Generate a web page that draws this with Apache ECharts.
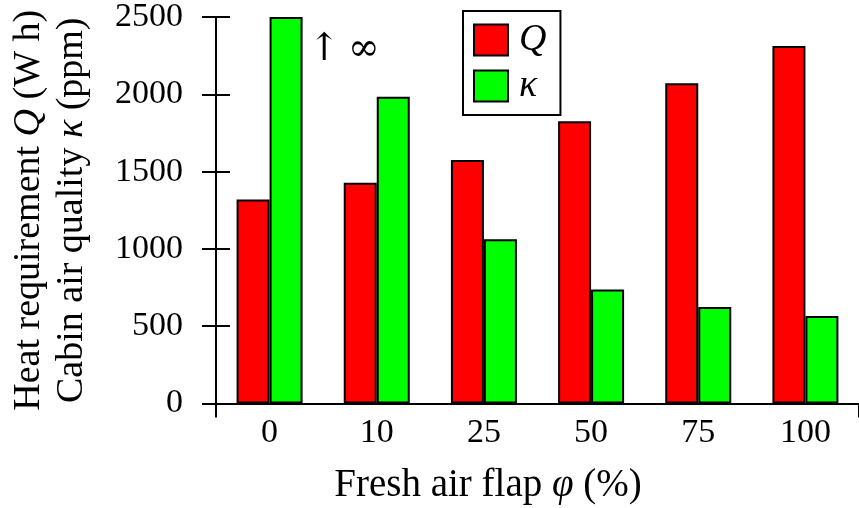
<!DOCTYPE html>
<html>
<head>
<meta charset="utf-8">
<script src="https://cdn.jsdelivr.net/npm/echarts@6/dist/echarts.min.js"></script>
<style>
html,body{margin:0;padding:0;background:#fff;}
#chart{width:859px;height:508px;}
</style>
</head>
<body>
<div id="chart"></div>
<script>
const categories = ['0', '10', '25', '50', '75', '100'];
const heatQ = [1320, 1428, 1575, 1825, 2072, 2313];
const airKappa = [2500, 1984, 1063, 737, 625, 566];
const yMin = 0, yMax = 2500, yInterval = 500;
const infinityNote = '↑\u2009∞';

const FONT = 'Liberation Serif';
const chart = echarts.init(document.getElementById('chart'), null, {renderer: 'canvas'});

const kappaData = airKappa.map((v, i) => i === 0 ? {
  value: v,
  label: {
    show: true, formatter: infinityNote, position: [39, 14],
    align: 'left', verticalAlign: 'top',
    fontFamily: 'DejaVu Serif', fontSize: 38, color: '#000'
  }
} : v);

const option = {
  animation: false,
  backgroundColor: '#fff',
  textStyle: {fontFamily: FONT},
  grid: {left: 213.6, top: 16, width: 652.2, height: 387.5, containLabel: false},
  title: {
    text: '{a|Fresh air flap }{i|φ}{a| (%)}',
    left: 483, top: 461, textAlign: 'center',
    textStyle: {
      fontWeight: 'normal',
      rich: {
        a: {fontFamily: FONT, fontSize: 39, fontWeight: 'normal', color: '#000'},
        i: {fontFamily: FONT, fontSize: 39, fontWeight: 'normal', fontStyle: 'italic', color: '#000'}
      }
    }
  },
  legend: {
    data: ['Q', 'κ'],
    orient: 'vertical',
    left: 463, top: 11,
    itemWidth: 34, itemHeight: 31, itemGap: 8,
    padding: [10, 14, 10, 10],
    borderColor: '#000', borderWidth: 2,
    icon: 'rect',
    textStyle: {fontFamily: FONT, fontSize: 38, lineHeight: 31, height: 31, fontStyle: 'italic', color: '#000', padding: [0, 0, 0, 6]}
  },
  xAxis: {
    type: 'category',
    data: categories,
    axisLine: {show: true, lineStyle: {color: '#000', width: 2}},
    axisTick: {show: true, length: 14, interval: function (i) { return i === 0; }, lineStyle: {color: '#000', width: 2}},
    axisLabel: {fontFamily: FONT, fontSize: 34, color: '#000', margin: 13},
    splitLine: {show: false}
  },
  yAxis: [{
    type: 'value',
    min: yMin, max: yMax, interval: yInterval,
    name: '{a|Heat requirement }{i|Q}{a| (W h)}\n{a|Cabin air quality }{i|κ}{a| (ppm)}',
    nameLocation: 'middle',
    nameRotate: 90,
    nameGap: 122,
    nameTextStyle: {
      lineHeight: 43,
      rich: {
        a: {fontFamily: FONT, fontSize: 38, color: '#000', lineHeight: 43},
        i: {fontFamily: FONT, fontSize: 38, fontStyle: 'italic', color: '#000', lineHeight: 43}
      }
    },
    axisLine: {show: true, lineStyle: {color: '#000', width: 2}},
    axisTick: {show: true, length: 14, lineStyle: {color: '#000', width: 2}},
    axisLabel: {fontFamily: FONT, fontSize: 34, color: '#000', margin: 33, formatter: function (v) { return String(v); }},
    splitLine: {show: false}
  }, {
    type: 'value',
    position: 'left',
    min: yMin, max: yMax, interval: yInterval,
    axisLine: {show: false},
    axisTick: {show: true, inside: true, length: 14, lineStyle: {color: '#000', width: 2}},
    axisLabel: {show: false},
    splitLine: {show: false}
  }],
  series: [{
    name: 'Q',
    type: 'bar',
    data: heatQ,
    barWidth: 33,
    barGap: '0%',
    itemStyle: {color: '#ff0000', borderColor: '#000', borderWidth: 2}
  }, {
    name: 'κ',
    type: 'bar',
    data: kappaData,
    barWidth: 33,
    barGap: '0%',
    itemStyle: {color: '#00ff00', borderColor: '#000', borderWidth: 2}
  }]
};
chart.setOption(option);
</script>
</body>
</html>
